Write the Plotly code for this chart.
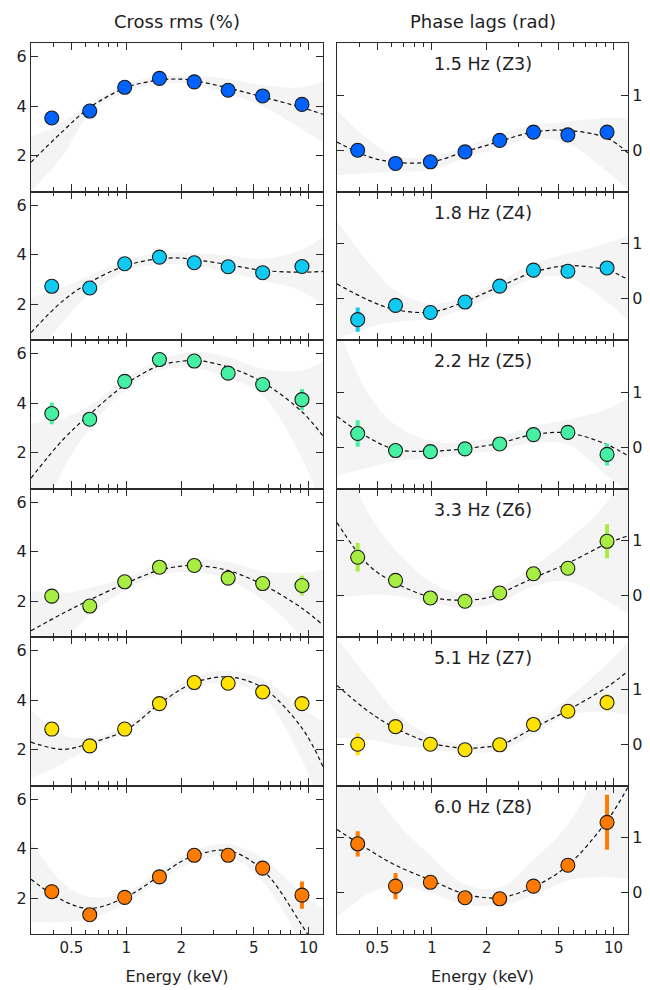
import math
import plotly.graph_objects as go

# ---------------- data ----------------
ENERGY = [0.39, 0.63, 0.98, 1.52, 2.36, 3.62, 5.6, 9.2]
LABELS = ["1.5 Hz (Z3)", "1.8 Hz (Z4)", "2.2 Hz (Z5)", "3.3 Hz (Z6)", "5.1 Hz (Z7)", "6.0 Hz (Z8)"]
COLORS = ["#0062ff", "#0fcaf2", "#45f0a2", "#a8ee42", "#ffe200", "#ff7a00"]

RMS = [
    [3.52, 3.80, 4.76, 5.12, 4.98, 4.64, 4.41, 4.07],
    [2.72, 2.65, 3.63, 3.90, 3.67, 3.51, 3.27, 3.52],
    [3.58, 3.35, 4.88, 5.76, 5.70, 5.21, 4.75, 4.14],
    [2.20, 1.80, 2.78, 3.37, 3.44, 2.93, 2.71, 2.63],
    [2.83, 2.15, 2.83, 3.86, 4.71, 4.68, 4.33, 3.86],
    [2.26, 1.33, 2.03, 2.86, 3.73, 3.73, 3.21, 2.12],
]
RMS_ERR = [
    [0.12, 0.08, 0.07, 0.06, 0.06, 0.07, 0.08, 0.12],
    [0.22, 0.10, 0.08, 0.07, 0.07, 0.08, 0.10, 0.22],
    [0.43, 0.12, 0.08, 0.07, 0.07, 0.08, 0.10, 0.43],
    [0.30, 0.10, 0.08, 0.07, 0.07, 0.08, 0.10, 0.40],
    [0.25, 0.10, 0.08, 0.07, 0.07, 0.08, 0.10, 0.22],
    [0.30, 0.12, 0.08, 0.07, 0.07, 0.08, 0.10, 0.55],
]
LAG = [
    [0.00, -0.24, -0.21, -0.03, 0.18, 0.33, 0.28, 0.33],
    [-0.38, -0.12, -0.25, -0.06, 0.23, 0.52, 0.50, 0.56],
    [0.25, -0.06, -0.08, -0.03, 0.06, 0.23, 0.27, -0.13],
    [0.70, 0.28, -0.04, -0.10, 0.05, 0.40, 0.50, 0.99],
    [0.00, 0.32, 0.00, -0.10, -0.01, 0.36, 0.60, 0.76],
    [0.89, 0.12, 0.19, -0.09, -0.11, 0.12, 0.50, 1.28],
]
LAG_ERR = [
    [0.07, 0.04, 0.03, 0.03, 0.03, 0.04, 0.05, 0.07],
    [0.22, 0.05, 0.04, 0.03, 0.03, 0.04, 0.05, 0.12],
    [0.24, 0.05, 0.04, 0.03, 0.03, 0.04, 0.06, 0.20],
    [0.26, 0.13, 0.05, 0.04, 0.04, 0.05, 0.08, 0.31],
    [0.20, 0.07, 0.05, 0.04, 0.04, 0.05, 0.06, 0.15],
    [0.23, 0.24, 0.07, 0.05, 0.05, 0.06, 0.08, 0.50],
]

# model curves
E_MODEL = [0.3, 0.45, 0.63, 1.0, 1.5, 2.0, 2.4, 3.6, 5.6, 9.2, 12.0]
RMS_MODEL = [
    [1.73, 3.00, 3.94, 4.75, 5.05, 5.09, 5.02, 4.74, 4.37, 3.94, 3.67],
    [0.85, 2.14, 2.88, 3.56, 3.83, 3.86, 3.79, 3.60, 3.36, 3.29, 3.32],
    [0.97, 2.53, 3.55, 4.78, 5.50, 5.69, 5.73, 5.46, 4.84, 3.65, 2.67],
    [0.80, 1.51, 2.05, 2.73, 3.24, 3.41, 3.44, 3.24, 2.67, 1.71, 1.03],
    [2.30, 2.01, 2.26, 2.80, 3.82, 4.44, 4.73, 4.94, 4.50, 2.87, 1.31],
    [2.76, 1.90, 1.58, 2.05, 2.87, 3.48, 3.73, 3.92, 3.14, 0.90, -0.50],
]
LAG_MODEL = [
    [0.15, -0.12, -0.22, -0.21, -0.03, 0.09, 0.17, 0.33, 0.36, 0.22, -0.05],
    [0.27, -0.03, -0.20, -0.24, -0.06, 0.12, 0.23, 0.48, 0.60, 0.52, 0.35],
    [0.56, 0.17, -0.04, -0.07, -0.03, 0.03, 0.08, 0.23, 0.26, 0.05, -0.16],
    [1.33, 0.55, 0.23, -0.03, -0.08, -0.04, 0.05, 0.32, 0.59, 0.95, 1.09],
    [1.07, 0.59, 0.29, 0.02, -0.07, -0.05, -0.01, 0.29, 0.62, 1.04, 1.33],
    [1.15, 0.78, 0.50, 0.22, -0.02, -0.09, -0.09, 0.10, 0.50, 1.31, 1.92],
]

# confidence bands
E_BAND = [0.3, 0.45, 0.63, 1.0, 1.5, 2.4, 3.6, 5.6, 9.0, 12.0]
RMS_HI = [
    [2.75, 3.36, 4.10, 4.90, 5.20, 5.22, 5.10, 4.85, 4.75, 5.00],
    [2.27, 2.68, 3.15, 3.76, 4.06, 4.06, 3.97, 3.83, 4.17, 4.71],
    [3.18, 3.41, 3.89, 5.00, 5.73, 6.07, 5.86, 5.39, 5.32, 5.66],
    [2.42, 2.33, 2.53, 2.94, 3.48, 3.69, 3.59, 3.21, 3.14, 3.30],
    [3.62, 2.60, 2.46, 2.97, 4.03, 4.95, 5.18, 4.84, 3.70, 3.14],
    [4.30, 2.60, 2.05, 2.26, 3.07, 3.95, 4.19, 3.62, 2.26, 1.60],
]
RMS_LO = [
    [0.55, 2.00, 3.70, 4.58, 4.90, 4.88, 4.50, 4.00, 3.10, 2.55],
    [-0.50, 1.30, 2.40, 3.36, 3.60, 3.56, 3.29, 2.95, 2.54, 1.93],
    [-1.50, 1.30, 3.00, 4.57, 5.32, 5.39, 5.05, 4.30, 1.90, -0.30],
    [-1.00, 0.35, 1.44, 2.46, 3.05, 3.18, 2.87, 2.05, 0.60, -1.00],
    [0.83, 1.44, 2.05, 2.67, 3.62, 4.50, 4.71, 4.16, 1.70, -0.50],
    [1.03, 1.03, 1.17, 1.78, 2.67, 3.48, 3.69, 2.67, 0.20, -2.00],
]
LAG_HI = [
    [0.73, 0.18, -0.10, -0.12, 0.06, 0.30, 0.45, 0.52, 0.58, 0.58],
    [1.42, 0.64, 0.15, -0.09, 0.03, 0.33, 0.64, 0.82, 1.00, 1.15],
    [2.20, 0.95, 0.41, 0.11, 0.10, 0.20, 0.38, 0.50, 0.68, 0.89],
    [2.80, 1.49, 0.83, 0.23, 0.05, 0.17, 0.53, 1.01, 1.67, 2.50],
    [1.92, 1.19, 0.59, 0.14, 0.00, 0.08, 0.38, 0.83, 1.43, 1.86],
    [3.00, 2.00, 1.31, 0.65, 0.16, 0.10, 0.59, 1.25, 2.50, 3.50],
]
LAG_LO = [
    [-0.45, -0.42, -0.39, -0.36, -0.15, 0.06, 0.21, 0.12, -0.36, -0.73],
    [-0.73, -0.52, -0.42, -0.36, -0.18, 0.12, 0.36, 0.39, -0.03, -0.39],
    [-0.52, -0.37, -0.25, -0.20, -0.13, -0.04, 0.08, 0.05, -0.49, -0.80],
    [-0.04, 0.02, 0.00, -0.13, -0.22, -0.10, 0.17, 0.26, -0.07, -0.34],
    [0.12, 0.08, -0.01, -0.10, -0.16, -0.10, 0.17, 0.53, 0.59, 0.53],
    [-0.44, -0.02, 0.13, -0.02, -0.21, -0.23, -0.05, 0.22, 0.28, 0.25],
]

X_TICKS = [0.5, 1, 2, 5, 10]
X_TICKTEXT = ["0.5", "1", "2", "5", "10"]
X_MINOR = [0.4, 0.6, 0.7, 0.8, 0.9, 3, 4, 6, 7, 8, 9]
RMS_TICKS = [2, 4, 6]
LAG_TICKS = [0, 1]

# ---------------- layout geometry ----------------
W, H = 650, 990
COL_X = [(31, 323), (337, 628)]
TOP, ROW_H = 43, 148.5
FONT = "DejaVu Sans"
AX_COLOR = "#2b2b2b"
TXT = "#1e1e1e"

fig = go.Figure()
layout = {}

for r in range(6):
    y_top = TOP + ROW_H * r
    y_bot = y_top + ROW_H
    ydom = [1 - y_bot / H, 1 - y_top / H]
    for c in range(2):
        k = r * 2 + c + 1
        xa = "x" if k == 1 else f"x{k}"
        ya = "y" if k == 1 else f"y{k}"
        if c == 0:
            hi, lo, model, vals, errs = RMS_HI[r], RMS_LO[r], RMS_MODEL[r], RMS[r], RMS_ERR[r]
        else:
            hi, lo, model, vals, errs = LAG_HI[r], LAG_LO[r], LAG_MODEL[r], LAG[r], LAG_ERR[r]
        fig.add_trace(go.Scatter(x=E_BAND, y=hi, mode="lines", line=dict(width=0, shape="spline", smoothing=1.0),
                                 xaxis=xa, yaxis=ya, showlegend=False, hoverinfo="skip"))
        fig.add_trace(go.Scatter(x=E_BAND, y=lo, mode="lines", line=dict(width=0, shape="spline", smoothing=1.0),
                                 fill="tonexty", fillcolor="rgba(0,0,0,0.045)",
                                 xaxis=xa, yaxis=ya, showlegend=False, hoverinfo="skip"))
        fig.add_trace(go.Scatter(x=E_MODEL, y=model, mode="lines",
                                 line=dict(color="#111111", width=1.2, dash="4px,3px", shape="spline", smoothing=1.0),
                                 xaxis=xa, yaxis=ya, showlegend=False, hoverinfo="skip"))
        fig.add_trace(go.Scatter(x=ENERGY, y=vals, mode="markers",
                                 marker=dict(size=14, color=COLORS[r], line=dict(color="#1a1a1a", width=1.1)),
                                 error_y=dict(type="data", array=errs, color=COLORS[r], thickness=4, width=0),
                                 xaxis=xa, yaxis=ya, showlegend=False))

        xdom = [COL_X[c][0] / W, COL_X[c][1] / W]
        xkey = "xaxis" if k == 1 else f"xaxis{k}"
        ykey = "yaxis" if k == 1 else f"yaxis{k}"
        layout[xkey] = dict(
            domain=xdom, anchor=ya, type="log",
            range=[math.log10(0.3), math.log10(12.0)],
            tickvals=X_TICKS, ticktext=X_TICKTEXT, showticklabels=(r == 5),
            ticks="inside", ticklen=7, tickwidth=1, tickcolor=AX_COLOR,
            minor=dict(tickvals=X_MINOR, ticks="inside", ticklen=4, tickwidth=1, tickcolor=AX_COLOR),
            showline=True, linecolor=AX_COLOR, linewidth=1.3, mirror="ticks",
            showgrid=False, zeroline=False, automargin=False,
            tickfont=dict(family=FONT, size=15, color=TXT),
        )
        if r == 5:
            layout[xkey]["title"] = dict(text="Energy (keV)", font=dict(family=FONT, size=16, color=TXT), standoff=14)
        if c == 0:
            layout[ykey] = dict(
                domain=ydom, anchor=xa, range=[0.55, 6.55], tickvals=RMS_TICKS,
                side="left",
            )
        else:
            layout[ykey] = dict(
                domain=ydom, anchor=xa, range=[-0.75, 1.95], tickvals=LAG_TICKS,
                side="right",
            )
        layout[ykey].update(
            ticks="inside", ticklen=7, tickwidth=1, tickcolor=AX_COLOR,
            showline=True, linecolor=AX_COLOR, linewidth=1.3, mirror="ticks",
            showgrid=False, zeroline=False, automargin=False,
            tickfont=dict(family=FONT, size=16, color=TXT),
        )

annotations = [
    dict(text="Cross rms (%)", x=(COL_X[0][0] + COL_X[0][1]) / 2 / W, y=1 - 21 / H,
         xref="paper", yref="paper", showarrow=False, font=dict(family=FONT, size=18, color=TXT),
         xanchor="center", yanchor="middle"),
    dict(text="Phase lags (rad)", x=(COL_X[1][0] + COL_X[1][1]) / 2 / W, y=1 - 21 / H,
         xref="paper", yref="paper", showarrow=False, font=dict(family=FONT, size=18, color=TXT),
         xanchor="center", yanchor="middle"),
]
for r, lab in enumerate(LABELS):
    annotations.append(dict(text=lab, x=(COL_X[1][0] + COL_X[1][1]) / 2 / W,
                            y=1 - (TOP + ROW_H * r + 21) / H, xref="paper", yref="paper",
                            showarrow=False, font=dict(family=FONT, size=17.5, color=TXT),
                            xanchor="center", yanchor="middle"))

fig.update_layout(
    width=W, height=H, margin=dict(l=0, r=0, t=0, b=0),
    paper_bgcolor="white", plot_bgcolor="white",
    annotations=annotations, showlegend=False, **layout,
)

fig.write_html("out.html")
